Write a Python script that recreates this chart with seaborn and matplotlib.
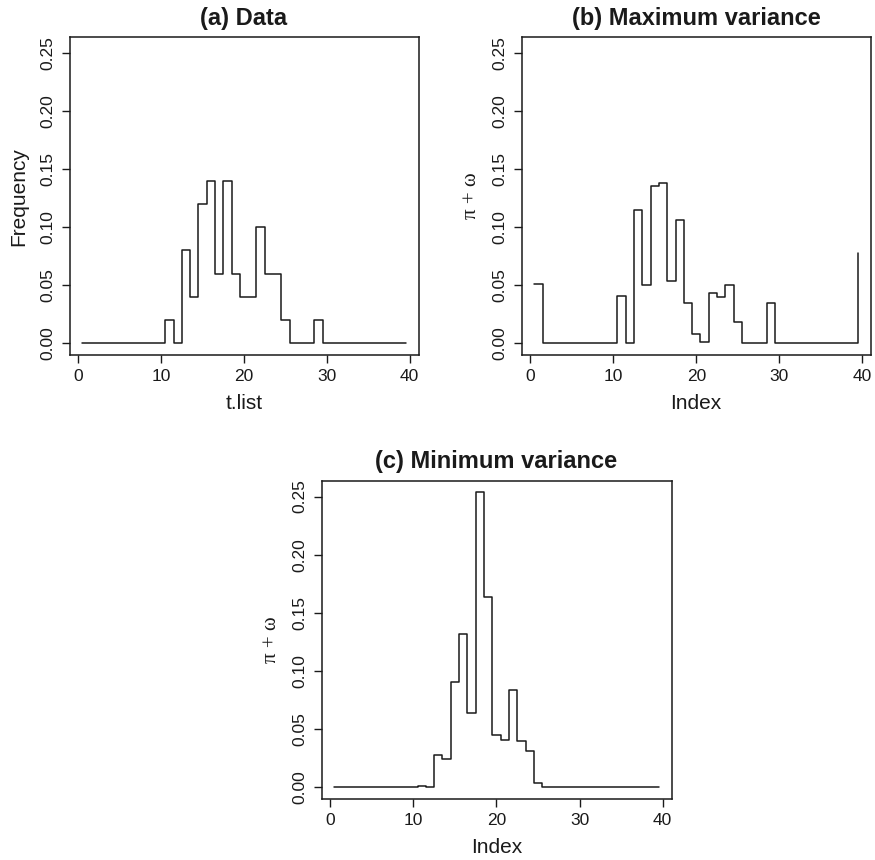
import numpy as np
import pandas as pd
import matplotlib
matplotlib.use("Agg")
import matplotlib.pyplot as plt
import seaborn as sns

# ---- data ----
t_list = [i + 0.5 for i in range(40)]

freq_data = [0, 0, 0, 0, 0, 0, 0, 0, 0, 0,
             0.02, 0, 0.08, 0.04, 0.12, 0.14, 0.06, 0.14, 0.06, 0.04,
             0.04, 0.10, 0.06, 0.06, 0.02, 0, 0, 0, 0.02, 0,
             0, 0, 0, 0, 0, 0, 0, 0, 0, 0]

max_var = [0.0511, 0, 0, 0, 0, 0, 0, 0, 0, 0,
           0.0408, 0, 0.1147, 0.0500, 0.1356, 0.1385, 0.0532, 0.1060, 0.0350, 0.0078,
           0.0010, 0.0430, 0.0400, 0.0506, 0.0180, 0, 0, 0, 0.0345, 0,
           0, 0, 0, 0, 0, 0, 0, 0, 0, 0.0779]

min_var = [0, 0, 0, 0, 0, 0, 0, 0, 0, 0,
           0.0010, 0, 0.0281, 0.0241, 0.0903, 0.1316, 0.0639, 0.2535, 0.1634, 0.0453,
           0.0407, 0.0840, 0.0399, 0.0313, 0.0034, 0, 0, 0, 0, 0,
           0, 0, 0, 0, 0, 0, 0, 0, 0, 0]

titles = ["(a) Data", "(b) Maximum variance", "(c) Minimum variance"]
xlabels = ["t.list", "Index", "Index"]
ylabels = ["Frequency", "\u03c0 + \u03c9", "\u03c0 + \u03c9"]
xticks = [0, 10, 20, 30, 40]
yticks = [0.00, 0.05, 0.10, 0.15, 0.20, 0.25]
ytick_labels = ["0.00", "0.05", "0.10", "0.15", "0.20", "0.25"]

sns.set_theme(style="ticks")
plt.rcParams["font.family"] = ["Liberation Sans", "DejaVu Sans"]

W, H = 875, 860
fig = plt.figure(figsize=(W / 100, H / 100), dpi=100)

def frac(left, top, right, bottom):
    return [left / W, 1 - bottom / H, (right - left) / W, (bottom - top) / H]

axes_pos = [frac(69.5, 37.3, 418.5, 355.0),
            frac(521.5, 37.3, 871.0, 355.0),
            frac(321.5, 480.7, 671.5, 799.0)]

series = [freq_data, max_var, min_var]

ymax = max(min_var)
xr = (min(t_list), max(t_list))
xpad = 0.04 * (xr[1] - xr[0])
ypad = 0.04 * ymax
ink = "#1a1a1a"

for pos, ys, title, xl, yl in zip(axes_pos, series, titles, xlabels, ylabels):
    ax = fig.add_axes(pos)
    df = pd.DataFrame({"x": t_list, "y": ys})
    sns.lineplot(data=df, x="x", y="y", ax=ax, drawstyle="steps-post",
                 color=ink, linewidth=1.1, estimator=None, sort=False)
    ax.set_xlim(xr[0] - xpad, xr[1] + xpad)
    ax.set_ylim(0 - ypad, ymax + ypad)
    ax.set_xticks(xticks)
    ax.set_xticklabels([str(v) for v in xticks])
    ax.set_yticks(yticks)
    ax.set_yticklabels(ytick_labels, rotation=90, va="center")
    ax.tick_params(axis="both", direction="out", length=6, width=1.0,
                   labelsize=12.5, color=ink, labelcolor=ink, pad=4)
    for s in ax.spines.values():
        s.set_visible(True)
        s.set_linewidth(1.1)
        s.set_color(ink)
    ax.set_title(title, fontsize=17, fontweight="bold", pad=9, color=ink)
    ax.set_xlabel(xl, fontsize=15, labelpad=7, color=ink)
    if yl == "Frequency":
        ax.set_ylabel(yl, fontsize=15, labelpad=9, color=ink)
    else:
        ax.set_ylabel(yl, fontsize=15, labelpad=8, color=ink,
                      family=["Liberation Serif", "DejaVu Serif"])
    ax.grid(False)

fig.savefig("out.png", dpi=100, facecolor="white")
